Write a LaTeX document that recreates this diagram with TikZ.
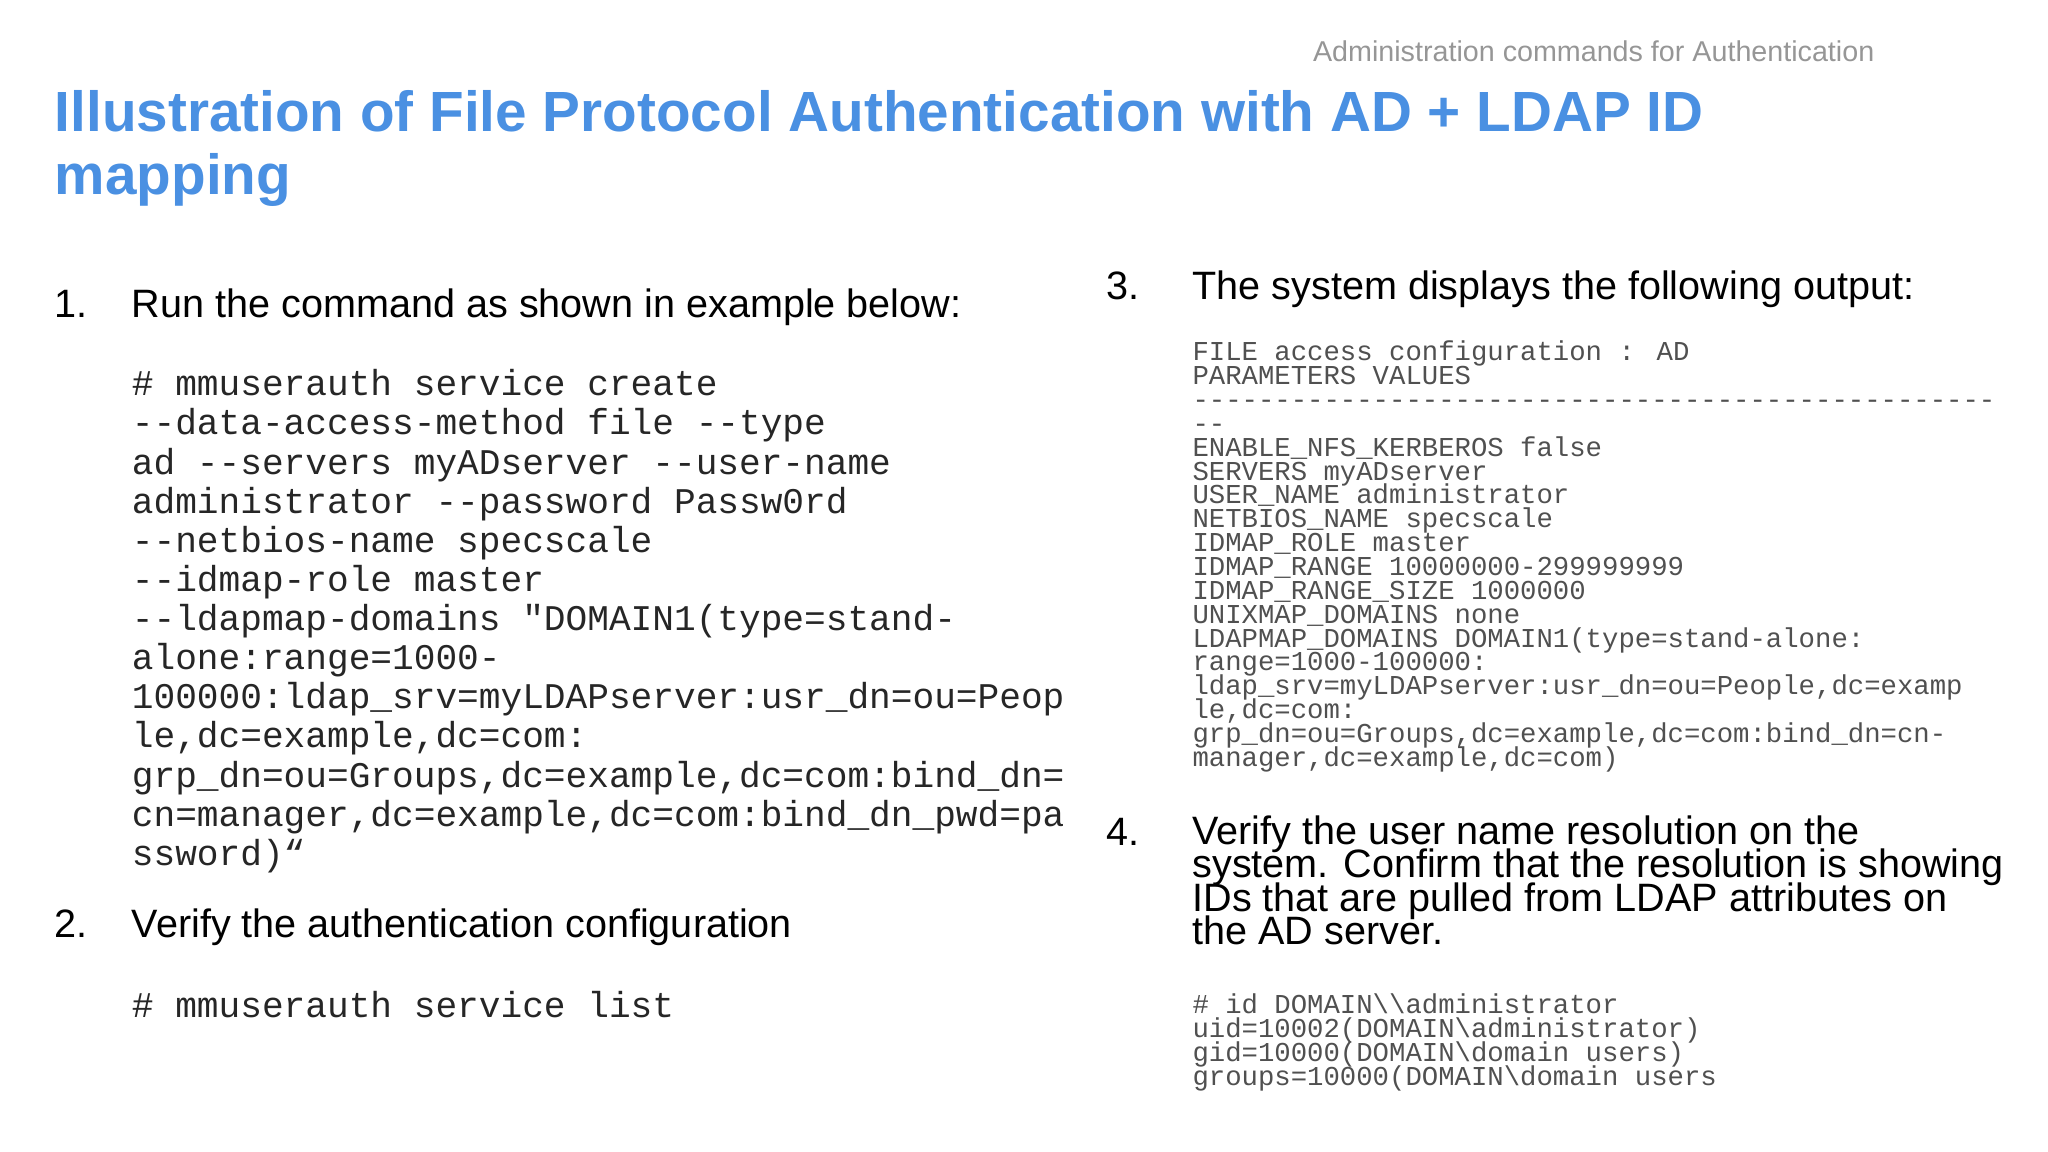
\documentclass[tikz,border=0pt]{standalone}
\usepackage{fontspec}
\setmainfont{Liberation Sans}
\newfontfamily\codefont{Liberation Mono}
\definecolor{titleblue}{RGB}{74,144,226}
\definecolor{hdrgray}{RGB}{150,150,150}
\definecolor{codegray}{RGB}{80,80,80}
\newcommand{\tightlines}{\lineskiplimit=-20pt\relax}
\begin{document}
\begin{tikzpicture}[x=0.02cm,y=-0.02cm,
  every node/.style={inner sep=0pt,outer sep=0pt},
  title/.style={anchor=north west,align=left,text=titleblue,font=\fontsize{24.7}{27.5}\selectfont\bfseries},
  body/.style={anchor=base west,align=left,font=\fontsize{17.25}{14.5}\selectfont\tightlines},
  num/.style={anchor=base west,font=\fontsize{17.25}{20}\selectfont},
  bigcode/.style={anchor=north west,align=left,font=\codefont\fontsize{15.75}{17.05}\selectfont\tightlines,text=black!85},
  smallcode/.style={anchor=north west,align=left,font=\codefont\fontsize{11.9}{10.4}\selectfont\tightlines,text=codegray}]
\useasboundingbox (0,0) rectangle (1568,882);
\node[anchor=base east,text=hdrgray,font=\fontsize{12.5}{15}\selectfont] (hdr) at (1435,47) {Administration commands for Authentication};
\node[title] (t) at (42,69) {Illustration of File Protocol Authentication with AD + LDAP ID\\mapping};
\node[num] (n1) at (42,243) {1.};
\node[body] (b1) at (101,243) {Run the command as shown in example below:};
\node[bigcode] (c1) at (101,283) {\# mmuserauth service create\\--data-access-method file --type\\ad --servers myADserver --user-name\\administrator --password Passw0rd\\--netbios-name specscale\\--idmap-role master\\--ldapmap-domains "DOMAIN1(type=stand-\\alone:range=1000-\\100000:ldap\_srv=myLDAPserver:usr\_dn=ou=Peop\\le,dc=example,dc=com:\\grp\_dn=ou=Groups,dc=example,dc=com:bind\_dn=\\cn=manager,dc=example,dc=com:bind\_dn\_pwd=pa\\ssword)“};
\node[num] (n2) at (42,718) {2.};
\node[body] (b2) at (101,718) {Verify the authentication configuration};
\node[bigcode] (c2) at (101,759) {\# mmuserauth service list};
\node[num] (n3) at (847,229) {3.};
\node[body] (b3) at (913,229) {The system displays the following output:};
\node[smallcode] (c3) at (913,261) {FILE access configuration : AD\\PARAMETERS VALUES\\-------------------------------------------------\\--\\ENABLE\_NFS\_KERBEROS false\\SERVERS myADserver\\USER\_NAME administrator\\NETBIOS\_NAME specscale\\IDMAP\_ROLE master\\IDMAP\_RANGE 10000000-299999999\\IDMAP\_RANGE\_SIZE 1000000\\UNIXMAP\_DOMAINS none\\LDAPMAP\_DOMAINS DOMAIN1(type=stand-alone:\\range=1000-100000:\\ldap\_srv=myLDAPserver:usr\_dn=ou=People,dc=examp\\le,dc=com:\\grp\_dn=ou=Groups,dc=example,dc=com:bind\_dn=cn-\\manager,dc=example,dc=com)};
\node[num] (n4) at (847,647) {4.};
\node[body] (b4) at (913,723) {Verify the user name resolution on the\\system. Confirm that the resolution is showing\\IDs that are pulled from LDAP attributes on\\the AD server.};
\node[smallcode] (c4) at (913,761) {\# id DOMAIN\textbackslash\textbackslash administrator\\uid=10002(DOMAIN\textbackslash administrator)\\gid=10000(DOMAIN\textbackslash domain users)\\groups=10000(DOMAIN\textbackslash domain users};
\end{tikzpicture}
\end{document}
